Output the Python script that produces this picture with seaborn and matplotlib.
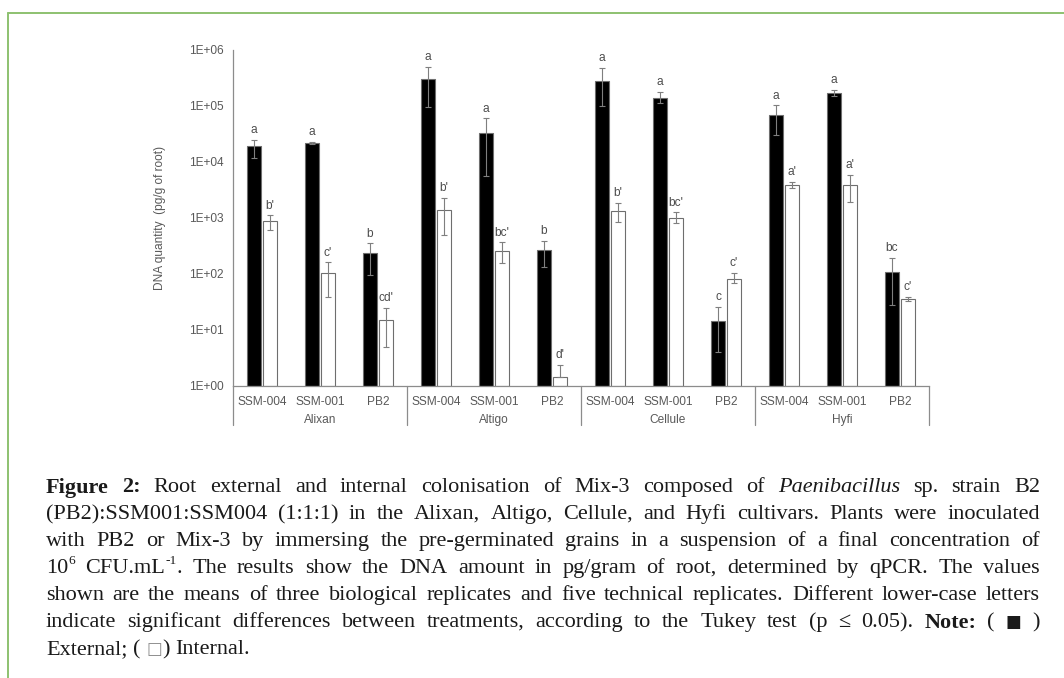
import numpy as np
import pandas as pd
import matplotlib
matplotlib.use("Agg")
import matplotlib.pyplot as plt
import matplotlib.transforms as mtransforms
from matplotlib.lines import Line2D
from matplotlib.ticker import FixedLocator, FuncFormatter, NullLocator
import seaborn as sns

# =========================
# dados
# =========================
cultivares = ["Alixan", "Altigo", "Cellule", "Hyfi"]
cepas = ["SSM-004", "SSM-001", "PB2"]

externo = [19000, 22000, 237, 300000, 33000, 267, 280000, 140000, 14.5, 69000, 170000, 109]
externo_min = [12000, 21000, 96, 96000, 5600, 134, 100000, 115000, 4, 30000, 150000, 28]
externo_max = [25000, 23000, 357, 500000, 61000, 390, 480000, 180000, 26, 104000, 195000, 194]

interno = [890, 105, 15, 1390, 258, 1.45, 1330, 1000, 81, 3900, 3900, 36]
interno_min = [610, 39, 5, 500, 158, 1.45, 850, 800, 69, 3450, 1950, 33]
interno_max = [1120, 163, 25, 2300, 372, 2.4, 1860, 1270, 105, 4400, 5900, 39]

letras_ext = ["a", "a", "b", "a", "a", "b", "a", "a", "c", "a", "a", "bc"]
letras_int = ["b'", "c'", "cd'", "b'", "bc'", "d'", "b'", "bc'", "c'", "a'", "a'", "c'"]

# legenda da figura (linhas justificadas)
legenda = [
    [("Figure", "b"), ("2:", "b"), ("Root", "n"), ("external", "n"), ("and", "n"), ("internal", "n"),
     ("colonisation", "n"), ("of", "n"), ("Mix-3", "n"), ("composed", "n"), ("of", "n"),
     ("Paenibacillus", "i"), ("sp.", "n"), ("strain", "n"), ("B2", "n")],
    [("(PB2):SSM001:SSM004", "n"), ("(1:1:1)", "n"), ("in", "n"), ("the", "n"), ("Alixan,", "n"),
     ("Altigo,", "n"), ("Cellule,", "n"), ("and", "n"), ("Hyfi", "n"), ("cultivars.", "n"),
     ("Plants", "n"), ("were", "n"), ("inoculated", "n")],
    [("with", "n"), ("PB2", "n"), ("or", "n"), ("Mix-3", "n"), ("by", "n"), ("immersing", "n"),
     ("the", "n"), ("pre-germinated", "n"), ("grains", "n"), ("in", "n"), ("a", "n"),
     ("suspension", "n"), ("of", "n"), ("a", "n"), ("final", "n"), ("concentration", "n"), ("of", "n")],
    [("10", "n"), ("6", "sup"), ("CFU.mL", "n"), ("-1", "sup"), (".", "cola"), ("The", "n"),
     ("results", "n"), ("show", "n"), ("the", "n"), ("DNA", "n"), ("amount", "n"), ("in", "n"),
     ("pg/gram", "n"), ("of", "n"), ("root,", "n"), ("determined", "n"), ("by", "n"),
     ("qPCR.", "n"), ("The", "n"), ("values", "n")],
    [("shown", "n"), ("are", "n"), ("the", "n"), ("means", "n"), ("of", "n"), ("three", "n"),
     ("biological", "n"), ("replicates", "n"), ("and", "n"), ("five", "n"), ("technical", "n"),
     ("replicates.", "n"), ("Different", "n"), ("lower-case", "n"), ("letters", "n")],
    [("indicate", "n"), ("significant", "n"), ("differences", "n"), ("between", "n"),
     ("treatments,", "n"), ("according", "n"), ("to", "n"), ("the", "n"), ("Tukey", "n"),
     ("test", "n"), ("(p", "n"), ("\u2264", "n"), ("0.05).", "n"), ("Note:", "b"), ("(", "n"),
     ("\u25a0", "simb"), (")", "n")],
    [("External;", "n"), ("(", "n"), ("\u25a1", "simbc"), (")", "cola"), ("Internal.", "n")],
]

# =========================
# montagem
# =========================
pos = [f"{c}|{s}" for c in cultivares for s in cepas]
df = pd.DataFrame({
    "pos": pos * 2,
    "dna": externo + interno,
    "lado": ["External"] * 12 + ["Internal"] * 12,
})

W, H = 1064, 678
fig = plt.figure(figsize=(W / 100, H / 100), dpi=100)
sns.set_style("white")
plt.rcParams["font.family"] = ["Liberation Sans", "DejaVu Sans"]

ax = fig.add_axes([233 / W, 1 - 386 / H, 696 / W, 336 / H])
sns.barplot(data=df, x="pos", y="dna", hue="lado", order=pos,
            palette={"External": "black", "Internal": "white"},
            edgecolor="#6e6e6e", linewidth=0.8, width=0.55, gap=0.1,
            legend=False, log_scale=(False, True), ax=ax)

# barras partem de 1E+00 (a base 0 some na escala log)
for cont in ax.containers:
    for b in cont:
        topo = b.get_y() + b.get_height()
        b.set_y(1.0)
        b.set_height(topo - 1.0)

ax.set_ylim(1, 1e6)
ax.set_xlim(-0.5, 11.5)
ax.yaxis.set_major_locator(FixedLocator([10.0 ** k for k in range(7)]))
ax.yaxis.set_minor_locator(NullLocator())
ax.yaxis.set_major_formatter(FuncFormatter(lambda v, p: f"1E+{int(round(np.log10(v))):02d}"))
ax.tick_params(axis="y", length=0, pad=7, labelsize=8.6, labelcolor="#595959")
ax.tick_params(axis="x", length=0, pad=7, labelsize=8.6, labelcolor="#595959")
ax.set_xticks(range(12))
ax.set_xticklabels(cepas * 4)
ax.set_xlabel("")
ax.set_ylabel("")
for lado in ["top", "right"]:
    ax.spines[lado].set_visible(False)
for lado in ["left", "bottom"]:
    ax.spines[lado].set_color("#8c8c8c")
    ax.spines[lado].set_linewidth(0.9)

# barras de erro e letras
series = [(externo, externo_min, externo_max, letras_ext),
          (interno, interno_min, interno_max, letras_int)]
for cont, (val, vmin, vmax, letras) in zip(ax.containers, series):
    cx = np.array([b.get_x() + b.get_width() / 2 for b in cont])
    val = np.array(val, dtype=float)
    err = [val - np.array(vmin), np.array(vmax) - val]
    ax.errorbar(cx, val, yerr=err, fmt="none", ecolor="#7f7f7f",
                elinewidth=0.8, capsize=2.2, capthick=0.8, zorder=5)
    for x, top, txt in zip(cx, vmax, letras):
        ax.annotate(txt, (x, top), xytext=(0, 2.5), textcoords="offset points",
                    ha="center", va="bottom", fontsize=8.6, color="#4d4d4d")

# linhas separadoras e nomes dos cultivares
trans = mtransforms.blended_transform_factory(ax.transData, ax.transAxes)
for xs in [-0.5, 2.5, 5.5, 8.5, 11.5]:
    ax.add_line(Line2D([xs, xs], [0, -39 / 336], transform=trans, color="#8c8c8c",
                       lw=0.9, clip_on=False))
for i, c in enumerate(cultivares):
    ax.text(3 * i + 1, -34 / 336, c, transform=trans, ha="center", va="center",
            fontsize=8.6, color="#595959")

fig.text(160 / W, 1 - 218 / H, "DNA quantity  (pg/g of root)", rotation=90,
         ha="center", va="center", fontsize=8.6, color="#595959")

# moldura verde
verde = "#8dc170"
fig.add_artist(Line2D([7.5 / W, 1], [1 - 12.5 / H, 1 - 12.5 / H], transform=fig.transFigure,
                      color=verde, lw=1.4))
fig.add_artist(Line2D([7.5 / W, 7.5 / W], [0, 1 - 12.5 / H], transform=fig.transFigure,
                      color=verde, lw=1.4))

# legenda justificada
renderer = fig.canvas.get_renderer()
tam = 16
estilos = {
    "n": dict(family="Liberation Serif"),
    "b": dict(family="Liberation Serif", weight="bold"),
    "i": dict(family="Liberation Serif", style="italic"),
    "cola": dict(family="Liberation Serif"),
    "sup": dict(family="Liberation Serif"),
    "simb": dict(family="DejaVu Sans"),
    "simbc": dict(family="DejaVu Sans", color="#8c8c8c"),
}
x0, x1 = 46, 1040
y_linhas = [485, 512, 539, 566, 593, 620, 647]
espaco = fig.text(0, 0, "a a", fontsize=tam, family="Liberation Serif")
w_aa = espaco.get_window_extent(renderer).width
espaco.set_text("aa")
w_esp = w_aa - espaco.get_window_extent(renderer).width
espaco.remove()

for n, linha in enumerate(legenda):
    y = y_linhas[n]
    artistas = []
    for txt, est in linha:
        props = dict(estilos[est])
        fs = tam * 0.6 if est == "sup" else (tam * 0.75 if est in ("simb", "simbc") else tam)
        dy = -6 if est == "sup" else 0
        t = fig.text(0, 1 - (y + dy) / H, txt, fontsize=fs, va="center_baseline", ha="left",
                     color=props.pop("color", "#1a1a1a"), **props)
        artistas.append((t, est in ("sup", "cola")))
    larg = [t.get_window_extent(renderer).width for t, _ in artistas]
    n_gap = sum(1 for t, cola in artistas[1:] if not cola)
    if n < len(legenda) - 1:
        gap = (x1 - x0 - sum(larg)) / n_gap
    else:
        gap = w_esp
    x = x0
    for k, ((t, cola), w) in enumerate(zip(artistas, larg)):
        if k > 0 and not cola:
            x += gap
        t.set_x(x / W)
        x += w

fig.savefig("out.png", dpi=100)
